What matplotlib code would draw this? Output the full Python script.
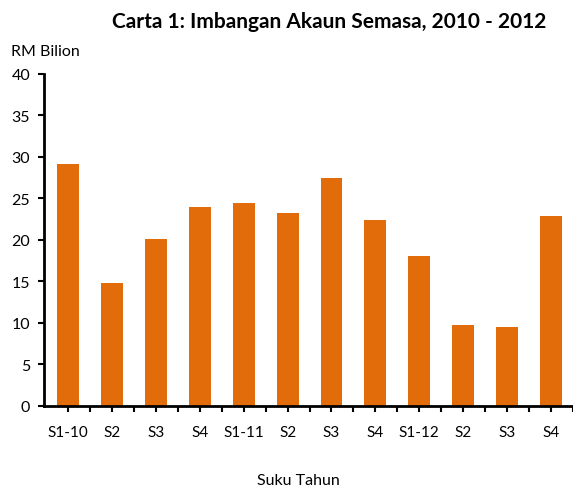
import matplotlib
matplotlib.use("Agg")
import matplotlib.pyplot as plt
import numpy as np

categories = ["S1-10", "S2", "S3", "S4", "S1-11", "S2", "S3", "S4", "S1-12", "S2", "S3", "S4"]
values = [29.2, 14.8, 20.1, 24.0, 24.4, 23.2, 27.5, 22.4, 18.1, 9.8, 9.5, 22.9]
yticks = [0, 5, 10, 15, 20, 25, 30, 35, 40]

plt.rcParams['font.family'] = ['Lato', 'DejaVu Sans']

fig = plt.figure(figsize=(5.73, 4.89), dpi=100)
ax = fig.add_axes([0.0768, 0.1677, 0.923, 0.679])
x = np.arange(len(categories))
ax.bar(x, values, width=0.5, color="#E36C0A")
ax.set_xlim(-0.55, 11.48)
ax.set_ylim(0, 40)
ax.set_yticks(yticks)
ax.set_yticklabels([str(t) for t in yticks], fontsize=11.5)
ax.set_xticks(x)
ax.set_xticklabels(categories, fontsize=11)
ax.set_xticks(np.arange(len(categories)) + 0.5, minor=True)
ax.tick_params(axis='x', which='both', direction='out', length=4, width=1.5, pad=10)
ax.tick_params(axis='y', direction='out', length=4, width=1.5, pad=6)
for s in ['top', 'right']:
    ax.spines[s].set_visible(False)
for s in ['left', 'bottom']:
    ax.spines[s].set_linewidth(2)

fig.text(0.574, 0.955, "Carta 1: Imbangan Akaun Semasa, 2010 - 2012", ha='center', va='center',
         fontsize=15, fontweight='bold')
fig.text(0.02, 0.893, "RM Bilion", ha='left', va='center', fontsize=11.5)
fig.text(0.52, 0.003, "Suku Tahun", ha='center', va='bottom', fontsize=11.5)

fig.savefig("out.png", dpi=100)
